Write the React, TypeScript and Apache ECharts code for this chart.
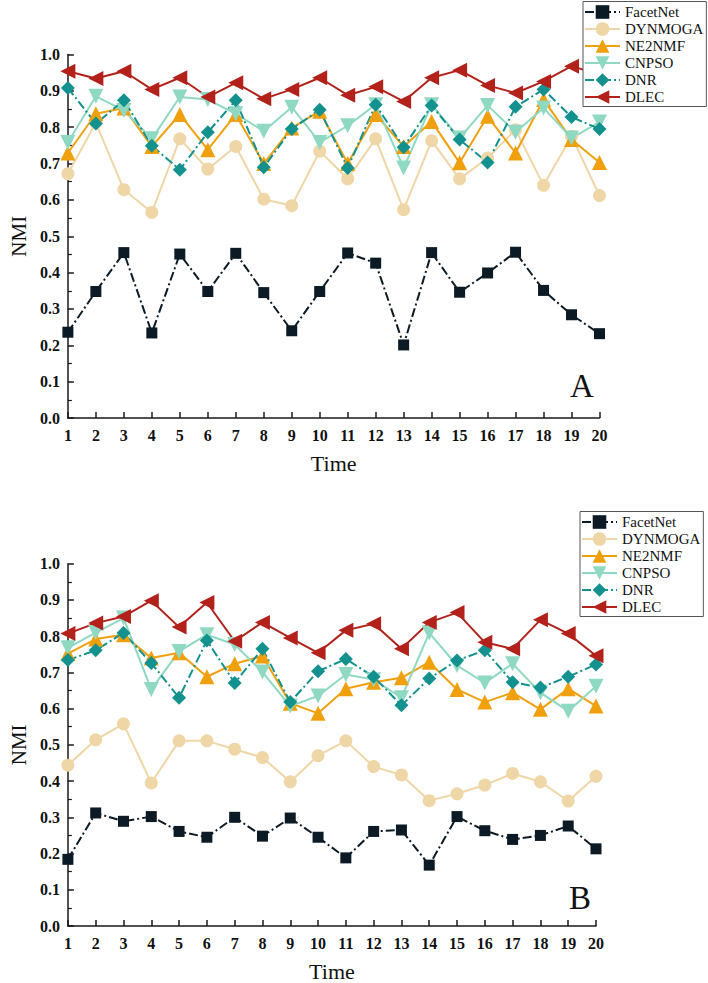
import React, { useEffect, useRef } from "react";
import * as echarts from "echarts";

const times = ["1","2","3","4","5","6","7","8","9","10","11","12","13","14","15","16","17","18","19","20"];
const yTicks = ["0.0","0.1","0.2","0.3","0.4","0.5","0.6","0.7","0.8","0.9","1.0"];
const seriesNames = ["FacetNet", "DYNMOGA", "NE2NMF", "CNPSO", "DNR", "DLEC"];

// Panel A
const facetA = [0.236,0.348,0.455,0.234,0.451,0.348,0.453,0.345,0.240,0.348,0.454,0.426,0.201,0.455,0.346,0.399,0.456,0.351,0.284,0.232];
const dynA = [0.672,0.812,0.628,0.566,0.768,0.685,0.747,0.602,0.584,0.734,0.658,0.768,0.573,0.763,0.658,0.715,0.793,0.640,0.775,0.612];
const ne2A = [0.729,0.837,0.853,0.747,0.835,0.738,0.835,0.700,0.798,0.844,0.700,0.835,0.747,0.816,0.702,0.830,0.729,0.876,0.766,0.703];
const cnpsoA = [0.758,0.885,0.846,0.768,0.883,0.876,0.837,0.789,0.855,0.758,0.804,0.862,0.688,0.862,0.770,0.860,0.786,0.853,0.770,0.814];
const dnrA = [0.908,0.810,0.874,0.749,0.683,0.786,0.874,0.690,0.795,0.848,0.688,0.862,0.745,0.860,0.766,0.703,0.856,0.904,0.828,0.795];
const dlecA = [0.954,0.934,0.954,0.904,0.936,0.883,0.922,0.878,0.904,0.936,0.888,0.911,0.871,0.936,0.957,0.915,0.894,0.926,0.968,0.945];

// Panel B
const facetB = [0.184,0.312,0.289,0.302,0.261,0.245,0.300,0.248,0.298,0.245,0.188,0.261,0.265,0.168,0.302,0.263,0.239,0.250,0.276,0.213];
const dynB = [0.444,0.514,0.558,0.395,0.511,0.511,0.488,0.465,0.398,0.470,0.511,0.440,0.417,0.346,0.365,0.389,0.421,0.398,0.345,0.413];
const ne2B = [0.752,0.792,0.804,0.740,0.754,0.688,0.724,0.745,0.615,0.587,0.655,0.673,0.685,0.728,0.653,0.618,0.644,0.598,0.655,0.607];
const cnpsoB = [0.768,0.810,0.850,0.653,0.758,0.804,0.777,0.701,0.607,0.635,0.694,0.680,0.630,0.809,0.719,0.671,0.724,0.644,0.593,0.662];
const dnrB = [0.734,0.761,0.809,0.726,0.630,0.788,0.671,0.765,0.618,0.703,0.737,0.688,0.609,0.683,0.733,0.761,0.673,0.658,0.688,0.722];
const dlecB = [0.807,0.836,0.854,0.898,0.825,0.893,0.786,0.838,0.795,0.754,0.816,0.834,0.765,0.838,0.865,0.783,0.765,0.845,0.807,0.746];

const panelA = [facetA, dynA, ne2A, cnpsoA, dnrA, dlecA];
const panelB = [facetB, dynB, ne2B, cnpsoB, dnrB, dlecB];

const colors = ["#0b1a24", "#efd6a6", "#f0a00c", "#8fd8c2", "#13918e", "#b2221b"];
const symbols = ["rect", "circle", "triangle", "triangle", "diamond", "triangle"];
const symbolRotates = [0, 0, 0, 180, 0, 90];
const symbolSizes = [11, 13, 15, 15, 14, 15];
const lineTypes: any[] = [[9, 3, 2, 3], "solid", "solid", "solid", [9, 3, 2, 3], "solid"];

const SERIF = "'Liberation Serif', 'Times New Roman', serif";

export default function App() {
  const ref = useRef<HTMLDivElement>(null);
  useEffect(() => {
    if (!ref.current) return;
    const chart = echarts.init(ref.current, undefined, { renderer: "svg" });

    const grids = [
      { left: 61.7, top: 54.5, width: 537.8, height: 363.5 },
      { left: 58.3, top: 563.7, width: 537.7, height: 364 },
    ];

    const xAxes = [0, 1].map((i) => ({
      type: "category",
      gridIndex: i,
      data: times,
      boundaryGap: false,
      name: "Time",
      nameLocation: "middle",
      nameGap: 34,
      nameTextStyle: { fontFamily: SERIF, fontSize: 22, color: "#111" },
      axisLine: { lineStyle: { color: "#1a1a1a", width: 1.5 } },
      axisTick: { inside: true, length: 6, lineStyle: { color: "#1a1a1a", width: 1.5 } },
      axisLabel: { fontFamily: SERIF, fontSize: 16, fontWeight: "bold", color: "#111", margin: 9, interval: 0 },
      splitLine: { show: false },
    }));

    const yAxes = [0, 1].map((i) => ({
      type: "value",
      gridIndex: i,
      min: 0,
      max: 1,
      interval: 0.1,
      name: "NMI",
      nameLocation: "middle",
      nameGap: 37,
      nameTextStyle: { fontFamily: SERIF, fontSize: 21, color: "#111" },
      axisLine: { show: true, lineStyle: { color: "#1a1a1a", width: 1.5 } },
      axisTick: { show: true, inside: true, length: 6, lineStyle: { color: "#1a1a1a", width: 1.5 } },
      minorTick: { show: true, splitNumber: 2, length: 4, lineStyle: { color: "#1a1a1a", width: 1.2 } },
      axisLabel: {
        fontFamily: SERIF, fontSize: 16, fontWeight: "bold", color: "#111", margin: 8,
        formatter: (v: number) => yTicks[Math.round(v * 10)] ?? "",
      },
      splitLine: { show: false },
    }));

    const series: any[] = [];
    [panelA, panelB].forEach((panel, p) => {
      panel.forEach((vals, k) => {
        series.push({
          type: "line",
          name: seriesNames[k],
          xAxisIndex: p,
          yAxisIndex: p,
          data: vals,
          symbol: symbols[k],
          symbolRotate: symbolRotates[k],
          symbolSize: symbolSizes[k],
          showAllSymbol: true,
          color: colors[k],
          itemStyle: { color: colors[k] },
          lineStyle: { color: colors[k], width: 2, type: lineTypes[k] },
          emphasis: { disabled: true },
        });
      });
    });

    const legendBase = {
      orient: "vertical",
      data: seriesNames,
      itemWidth: 35,
      itemHeight: 17,
      itemGap: 2,
      padding: [3, 3, 2, 1],
      borderColor: "#555",
      borderWidth: 1,
      backgroundColor: "#fff",
      textStyle: { fontFamily: SERIF, fontSize: 15, color: "#111" },
      selectedMode: false,
    };

    chart.setOption({
      animation: false,
      backgroundColor: "#fff",
      grid: grids,
      xAxis: xAxes,
      yAxis: yAxes,
      legend: [
        { ...legendBase, left: 583, top: 1.5 },
        { ...legendBase, left: 580, top: 511.5 },
      ],
      title: [
        { text: "A", left: 565, top: 364, textStyle: { fontFamily: SERIF, fontSize: 33, fontWeight: "normal", color: "#111" } },
        { text: "B", left: 564, top: 876, textStyle: { fontFamily: SERIF, fontSize: 33, fontWeight: "normal", color: "#111" } },
      ],
      series,
    });

    return () => chart.dispose();
  }, []);

  return (
    <div
      ref={ref}
      style={{ position: "absolute", left: 0, top: 0, width: 708, height: 983 }}
    />
  );
}
